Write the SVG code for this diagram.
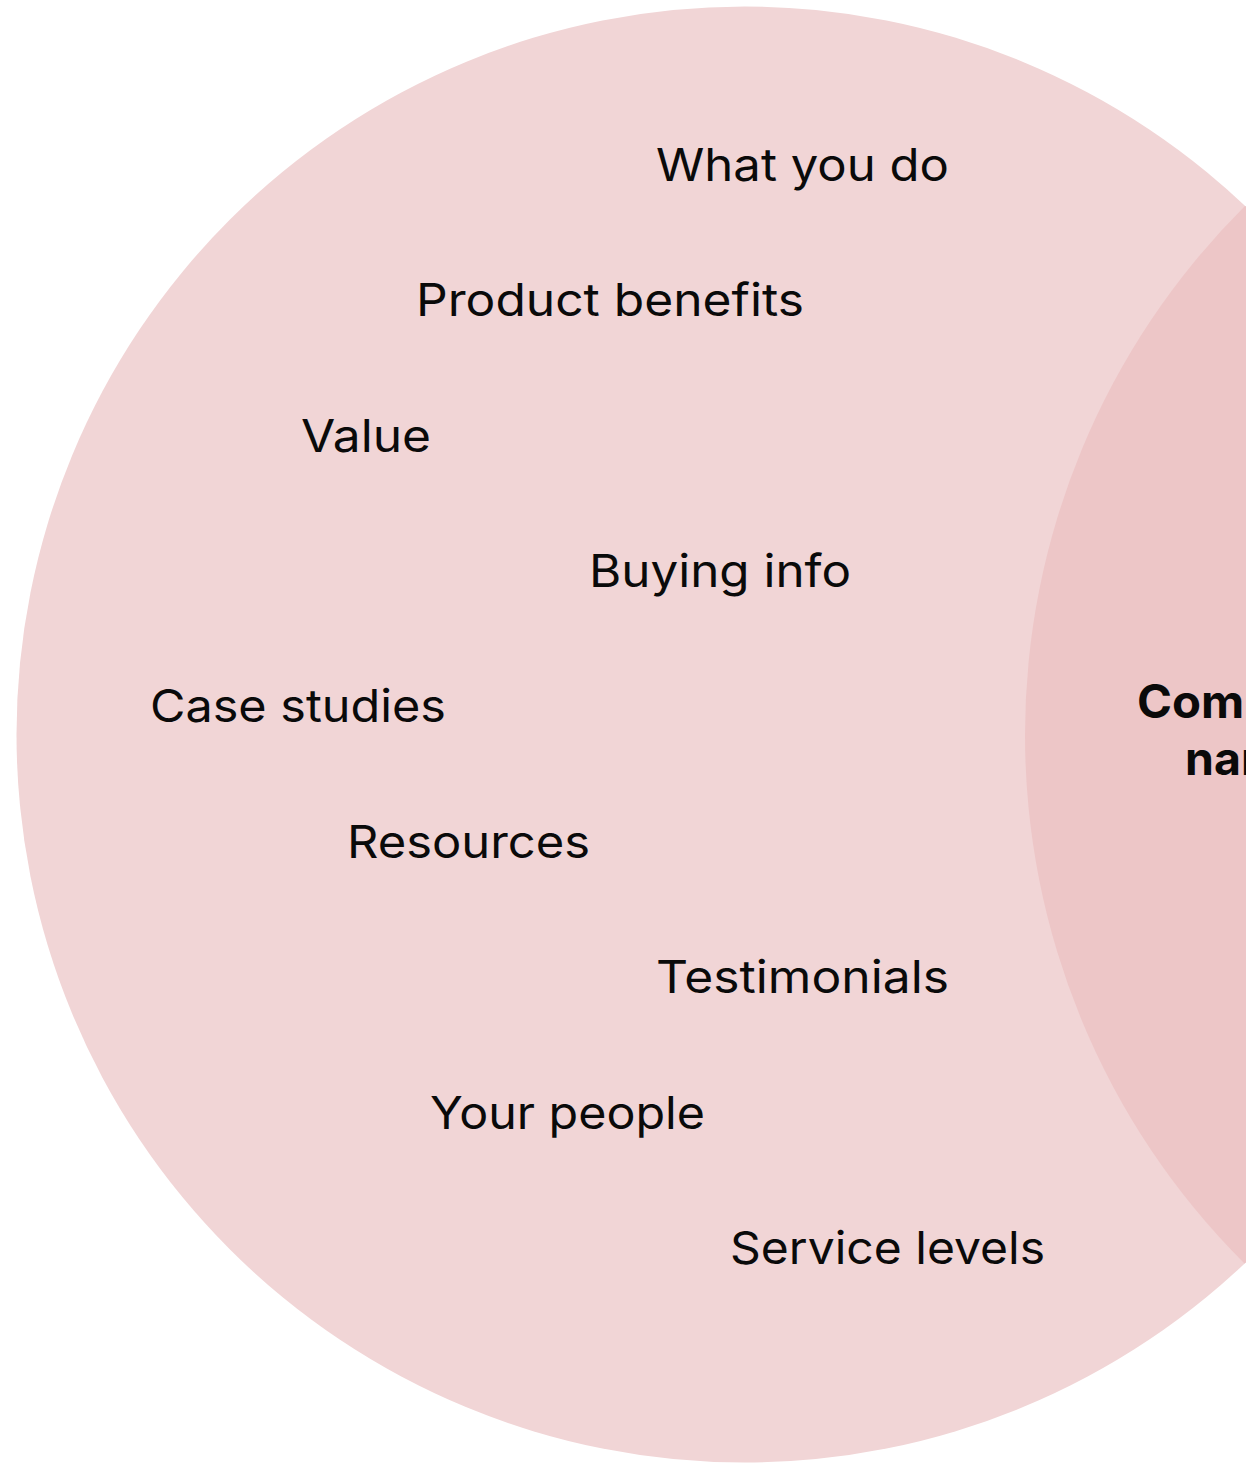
<svg xmlns="http://www.w3.org/2000/svg" width="1246" height="1463" viewBox="0 0 1246 1463">
  <style>
    .label { font-family: Inter, "Noto Sans", "Liberation Sans", sans-serif; font-size: 45px; fill: #0a0a0a; }
    .title { font-family: Inter, "Noto Sans", "Liberation Sans", sans-serif; font-size: 46px; font-weight: 700; fill: #0a0a0a; text-anchor: middle; }
  </style>
  <defs>
    <clipPath id="leftCircle">
      <circle cx="744.5" cy="734.5" r="728"/>
    </clipPath>
  </defs>
  <rect width="1246" height="1463" fill="#ffffff"/>

  <!-- Venn: left set and its overlap with the right set -->
  <g id="set-left">
    <circle cx="744.5" cy="734.5" r="728" fill="#f1d5d6"/>
  </g>
  <g id="overlap">
    <circle cx="1771" cy="735" r="746" fill="#edc6c7" clip-path="url(#leftCircle)"/>
    <text class="title" x="1248" y="718" textLength="222" lengthAdjust="spacingAndGlyphs">Company</text>
    <text class="title" x="1248" y="775" textLength="126" lengthAdjust="spacingAndGlyphs">name</text>
  </g>

  <!-- Items of the left set -->
  <g id="items">
    <text class="label" x="656" y="180.5" textLength="293" lengthAdjust="spacingAndGlyphs">What you do</text>
    <text class="label" x="416" y="316" textLength="388" lengthAdjust="spacingAndGlyphs">Product benefits</text>
    <text class="label" x="301" y="451.5" textLength="130" lengthAdjust="spacingAndGlyphs">Value</text>
    <text class="label" x="589" y="587" textLength="262" lengthAdjust="spacingAndGlyphs">Buying info</text>
    <text class="label" x="150" y="722" textLength="296" lengthAdjust="spacingAndGlyphs">Case studies</text>
    <text class="label" x="347" y="858" textLength="243" lengthAdjust="spacingAndGlyphs">Resources</text>
    <text class="label" x="656" y="993" textLength="293" lengthAdjust="spacingAndGlyphs">Testimonials</text>
    <text class="label" x="430" y="1129" textLength="275" lengthAdjust="spacingAndGlyphs">Your people</text>
    <text class="label" x="730" y="1264" textLength="315" lengthAdjust="spacingAndGlyphs">Service levels</text>
  </g>
</svg>
